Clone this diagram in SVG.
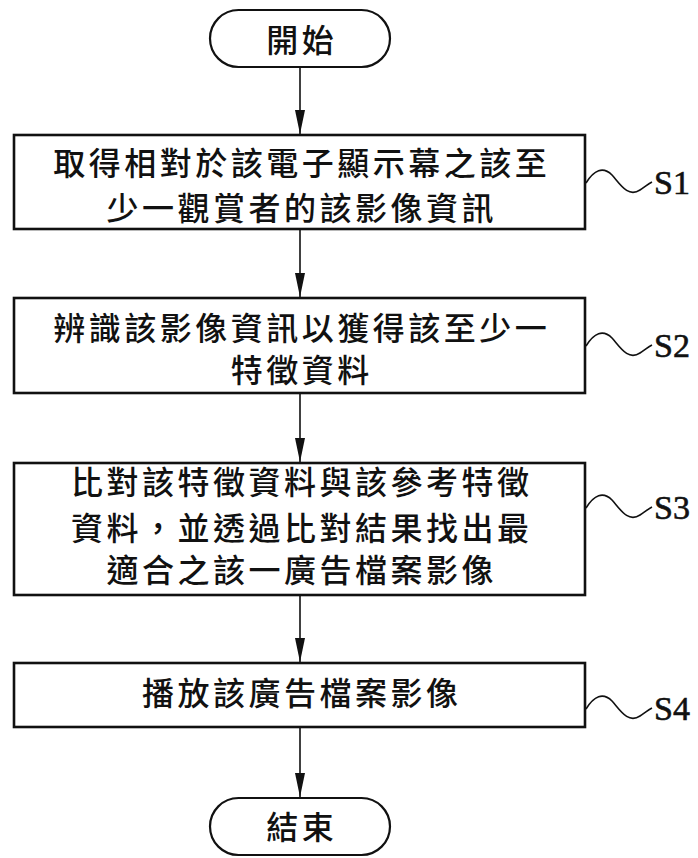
<svg xmlns="http://www.w3.org/2000/svg" width="698" height="858" viewBox="0 0 698 858">
<defs>
<marker id="ah" markerWidth="24" markerHeight="10" refX="24" refY="5" orient="auto" markerUnits="userSpaceOnUse" viewBox="0 0 24 10">
<path d="M0,0 L24,5 L0,10 Z" fill="#111"/>
</marker>
<style>
.box{fill:#fff;stroke:#111;stroke-width:2.6}
.term{fill:#fff;stroke:#111;stroke-width:2.2}
.t{font-family:"Noto Sans CJK TC","Noto Sans CJK SC",sans-serif;font-size:32px;font-weight:500;fill:#111;text-anchor:middle;letter-spacing:3.5px}
.lbl{font-family:"Liberation Serif",serif;font-size:34px;fill:#111;stroke:#111;stroke-width:0.6}
.sq{fill:none;stroke:#111;stroke-width:1.6}
.ar{stroke:#111;stroke-width:1.6;fill:none}
</style>
</defs>
<rect width="698" height="858" fill="#fff"/>
<g id="connectors">
<line class="ar" x1="300" y1="67" x2="300" y2="134" marker-end="url(#ah)"/>
<line class="ar" x1="300" y1="229" x2="300" y2="297" marker-end="url(#ah)"/>
<line class="ar" x1="300" y1="393" x2="300" y2="462" marker-end="url(#ah)"/>
<line class="ar" x1="300" y1="595" x2="300" y2="662" marker-end="url(#ah)"/>
<line class="ar" x1="300" y1="727" x2="300" y2="797" marker-end="url(#ah)"/>
</g>
<g id="start">
<rect class="term" x="210" y="10" width="180" height="57" rx="28.5"/>
<text class="t" x="301.75" y="52">開始</text>
</g>
<g id="s1">
<rect class="box" x="14" y="135" width="571" height="94"/>
<text class="t" x="301.75" y="175">取得相對於該電子顯示幕之該至</text>
<text class="t" x="301.75" y="220">少一觀賞者的該影像資訊</text>
<path class="sq" d="M586,183 C594,170 603,166 612,175 C620,184 628,198 640,190 C645,187 648,184 652,182"/>
<text class="lbl" x="654" y="194">S1</text>
</g>
<g id="s2">
<rect class="box" x="14" y="298" width="571" height="95"/>
<text class="t" x="301.75" y="340">辨識該影像資訊以獲得該至少一</text>
<text class="t" x="301.75" y="382">特徵資料</text>
<path class="sq" d="M586,346 C594,333 603,329 612,338 C620,347 628,361 640,353 C645,350 648,347 652,345"/>
<text class="lbl" x="654" y="357">S2</text>
</g>
<g id="s3">
<rect class="box" x="14" y="463" width="571" height="132"/>
<text class="t" x="301.75" y="494">比對該特徵資料與該參考特徵</text>
<text class="t" x="301.75" y="540">資料，並透過比對結果找出最</text>
<text class="t" x="301.75" y="582">適合之該一廣告檔案影像</text>
<path class="sq" d="M586,508 C594,495 603,491 612,500 C620,509 628,523 640,515 C645,512 648,509 652,507"/>
<text class="lbl" x="654" y="519">S3</text>
</g>
<g id="s4">
<rect class="box" x="14" y="663" width="571" height="64"/>
<text class="t" x="301.75" y="705">播放該廣告檔案影像</text>
<path class="sq" d="M586,709 C594,696 603,692 612,701 C620,710 628,724 640,716 C645,713 648,710 652,708"/>
<text class="lbl" x="654" y="720">S4</text>
</g>
<g id="end">
<rect class="term" x="210" y="798" width="180" height="57" rx="28.5"/>
<text class="t" x="301.75" y="839">結束</text>
</g>
</svg>
